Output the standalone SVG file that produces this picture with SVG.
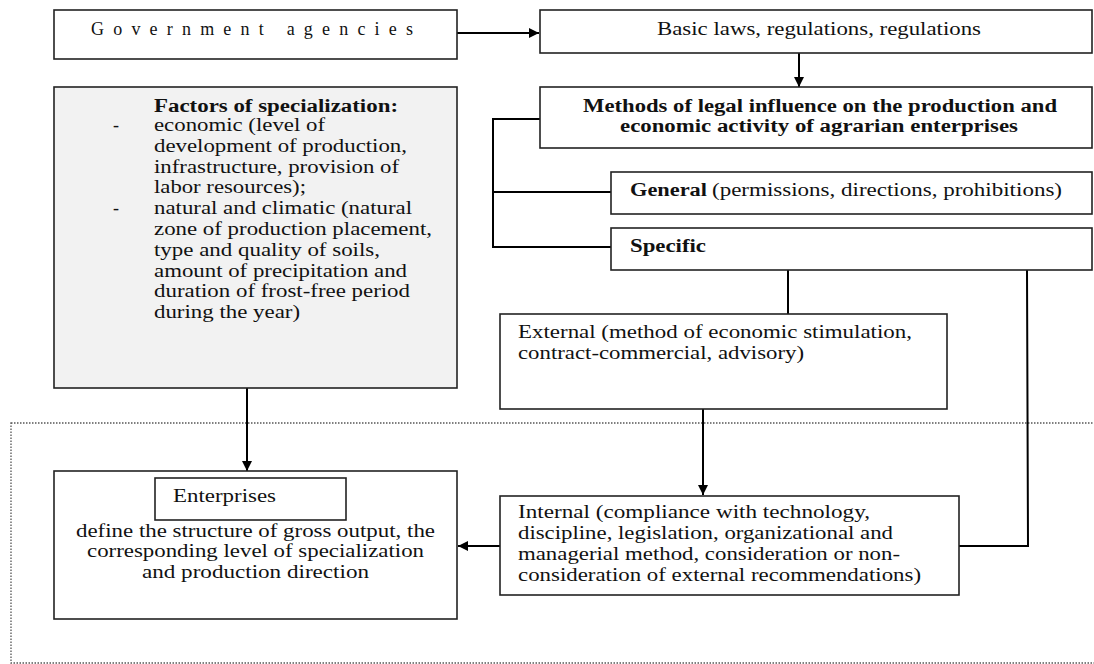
<svg xmlns="http://www.w3.org/2000/svg" width="1094" height="664" viewBox="0 0 1094 664">
<style>
.box{fill:#fff;stroke:#222;stroke-width:1.6}
.gray{fill:#f2f2f2;stroke:#222;stroke-width:1.6}
.ln{fill:none;stroke:#000;stroke-width:2}
.t{font-family:"Liberation Serif","Times New Roman",serif;font-size:18px;fill:#111}
.b{font-weight:bold}
.dot{fill:none;stroke:#555;stroke-width:1.3;stroke-dasharray:1.5 1.5}
</style>
<defs>
<marker id="ah" viewBox="0 0 10 10" refX="10" refY="5" markerWidth="10" markerHeight="10" markerUnits="userSpaceOnUse" orient="auto">
<path d="M0,0 L10,5 L0,10 Z" fill="#000"/>
</marker>
</defs>
<rect class="dot" x="11" y="423" width="1100" height="240"/>
<g id="connectors">
<line class="ln" x1="457" y1="33" x2="539" y2="33" marker-end="url(#ah)"/>
<line class="ln" x1="799" y1="53" x2="799" y2="87" marker-end="url(#ah)"/>
<polyline class="ln" points="540,119 493,119 493,247 611,247"/>
<line class="ln" x1="493" y1="192" x2="611" y2="192"/>
<line class="ln" x1="788" y1="270" x2="788" y2="314"/>
<polyline class="ln" points="1027,270 1028,546 959,546"/>
<line class="ln" x1="703" y1="409" x2="703" y2="495" marker-end="url(#ah)"/>
<line class="ln" x1="247" y1="388" x2="247" y2="471" marker-end="url(#ah)"/>
<line class="ln" x1="500" y1="546" x2="458" y2="546" marker-end="url(#ah)"/>
</g>
<g id="gov">
<rect class="box" x="54" y="10" width="403" height="49"/>
<text class="t" x="91" y="35" textLength="322" lengthAdjust="spacing">Government agencies</text>
</g>
<g id="basic">
<rect class="box" x="540" y="10" width="552" height="43"/>
<text class="t" x="657" y="35" textLength="324" lengthAdjust="spacingAndGlyphs">Basic laws, regulations, regulations</text>
</g>
<g id="methods">
<rect class="box" x="540" y="87" width="552" height="61"/>
<text class="t b" x="583" y="112" textLength="474" lengthAdjust="spacingAndGlyphs">Methods of legal influence on the production and</text>
<text class="t b" x="620" y="132" textLength="398" lengthAdjust="spacingAndGlyphs">economic activity of agrarian enterprises</text>
</g>
<g id="factors">
<rect class="gray" x="54" y="87" width="403" height="301"/>
<text class="t b" x="154" y="112" textLength="244" lengthAdjust="spacingAndGlyphs">Factors of specialization:</text>
<text class="t" x="113" y="131">-</text>
<text class="t" x="154" y="131" textLength="171" lengthAdjust="spacingAndGlyphs">economic (level of</text>
<text class="t" x="154" y="152" textLength="253" lengthAdjust="spacingAndGlyphs">development of production,</text>
<text class="t" x="154" y="173" textLength="245" lengthAdjust="spacingAndGlyphs">infrastructure, provision of</text>
<text class="t" x="154" y="193" textLength="152" lengthAdjust="spacingAndGlyphs">labor resources);</text>
<text class="t" x="113" y="214">-</text>
<text class="t" x="154" y="214" textLength="258" lengthAdjust="spacingAndGlyphs">natural and climatic (natural</text>
<text class="t" x="154" y="235" textLength="278" lengthAdjust="spacingAndGlyphs">zone of production placement,</text>
<text class="t" x="154" y="256" textLength="226" lengthAdjust="spacingAndGlyphs">type and quality of soils,</text>
<text class="t" x="154" y="277" textLength="253" lengthAdjust="spacingAndGlyphs">amount of precipitation and</text>
<text class="t" x="154" y="297" textLength="256" lengthAdjust="spacingAndGlyphs">duration of frost-free period</text>
<text class="t" x="154" y="318" textLength="146" lengthAdjust="spacingAndGlyphs">during the year)</text>
</g>
<g id="general">
<rect class="box" x="611" y="172" width="481" height="42"/>
<text class="t b" x="630" y="196" textLength="77" lengthAdjust="spacingAndGlyphs">General</text>
<text class="t" x="712" y="196" textLength="350" lengthAdjust="spacingAndGlyphs">(permissions, directions, prohibitions)</text>
</g>
<g id="specific">
<rect class="box" x="611" y="228" width="481" height="42"/>
<text class="t b" x="630" y="252" textLength="76" lengthAdjust="spacingAndGlyphs">Specific</text>
</g>
<g id="external">
<rect class="box" x="500" y="314" width="447" height="95"/>
<text class="t" x="518" y="338" textLength="394" lengthAdjust="spacingAndGlyphs">External (method of economic stimulation,</text>
<text class="t" x="518" y="359" textLength="286" lengthAdjust="spacingAndGlyphs">contract-commercial, advisory)</text>
</g>
<g id="internal">
<rect class="box" x="500" y="496" width="459" height="99"/>
<text class="t" x="518" y="518" textLength="352" lengthAdjust="spacingAndGlyphs">Internal (compliance with technology,</text>
<text class="t" x="518" y="539" textLength="375" lengthAdjust="spacingAndGlyphs">discipline, legislation, organizational and</text>
<text class="t" x="518" y="560" textLength="382" lengthAdjust="spacingAndGlyphs">managerial method, consideration or non-</text>
<text class="t" x="518" y="581" textLength="403" lengthAdjust="spacingAndGlyphs">consideration of external recommendations)</text>
</g>
<g id="enterprises">
<rect class="box" x="54" y="471" width="403" height="148"/>
<rect class="box" x="155" y="478" width="191" height="42"/>
<text class="t" x="173" y="502" textLength="103" lengthAdjust="spacingAndGlyphs">Enterprises</text>
<text class="t" x="76" y="537" textLength="359" lengthAdjust="spacingAndGlyphs">define the structure of gross output, the</text>
<text class="t" x="87" y="557" textLength="337" lengthAdjust="spacingAndGlyphs">corresponding level of specialization</text>
<text class="t" x="142" y="578" textLength="227" lengthAdjust="spacingAndGlyphs">and production direction</text>
</g>
</svg>
